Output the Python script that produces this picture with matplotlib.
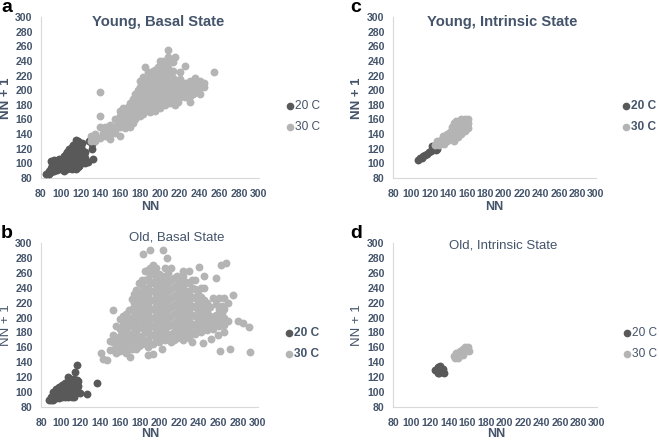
import matplotlib
matplotlib.use("Agg")
import matplotlib.pyplot as plt
from matplotlib.transforms import Affine2D

plt.rcParams['font.family'] = ['Liberation Sans', 'DejaVu Sans']

TICKS = list(range(80, 301, 20))
SERIES = ['20 C', '30 C']

# each row: x value, then the y values read at that x
a20 = [(85,[85]),(88,[86,90]),(90,[88,94,103]),(93,[90,96,104]),(96,[91,97,103]),(100,[92,98,104]),
       (103,[90,96,102,110]),(106,[92,98,104,112,116]),(109,[94,100,106,112,118]),
       (112,[95,102,108,114,120,125]),(115,[92,98,104,110,116,122,132]),(118,[96,102,108,114,120,128]),
       (121,[100,106,112,118,128]),(124,[100,108,115]),(127,[102]),(128,[130]),(131,[120,127]),(132,[106])]
a20_more = [(91,[97,100]),(94,[93,99]),(98,[94,100,106]),(102,[100,106]),(105,[95,101,107,113]),
            (108,[97,103,109,115,120]),(111,[92,99,105,111,117,123]),(114,[94,100,106,112,118,125]),
            (117,[95,101,107,113,119,125,130]),(120,[104,110,116,122]),(123,[104,112])]
a30 = [(130,[130,138]),(135,[130,140]),(140,[135,150,165,198]),(145,[138,150]),(150,[133,140,152]),
       (155,[142,145,160]),(160,[137,150,165,172]),(165,[148,158,170]),(170,[150,160,172,182]),
       (175,[160,170,182,195]),(180,[165,175,185,195,205,212]),(185,[172,182,192,202,212,232]),
       (190,[170,180,190,200,210,220]),(195,[172,182,192,202,212,222,228]),
       (200,[175,185,195,205,215,225,240]),(205,[180,190,200,210,220,235]),(208,[255]),
       (210,[182,192,202,212,225,240]),(215,[180,190,200,210,245]),(220,[190,200,210,215,225]),
       (225,[190,200,210,233]),(230,[184,192,202,212]),(235,[198,208,217]),(240,[195,205,212]),
       (245,[205,210]),(255,[225])]
a30_more = [(143,[142]),(148,[148]),(153,[150]),(158,[155,160]),(163,[155,165,175]),(168,[155,165,177]),
            (173,[155,165,177,188]),(178,[170,180,190,200]),(183,[168,178,188,198,208,218]),
            (188,[175,185,195,205,215,225]),(193,[176,186,196,206,216,226]),(198,[178,188,198,208,218,232]),
            (203,[182,192,202,212,228,240]),(208,[186,196,206,216,230,246]),(213,[186,196,206,216,226,238]),
            (218,[184,195,205]),(223,[195,205]),(228,[196,206]),(233,[195,205]),(238,[200,210])]
b20 = [(88,[89]),(90,[90,94]),(92,[90,96,100]),(95,[92,98,104]),(98,[92,97,103,107]),(101,[93,99,105,110]),
       (104,[94,100,106,112]),(107,[94,100,106,112,120]),(110,[96,102,108,114,118]),
       (113,[94,100,106,112,118]),(114,[127]),(116,[100,106,112,116]),(117,[137]),(118,[108,115]),
       (120,[99]),(127,[97]),(137,[112])]
b20_more = [(93,[93,97]),(96,[95,101]),(99,[95,100,106]),(102,[96,102,108]),(105,[97,103,109]),
            (108,[97,103,109,116]),(111,[93,99,105,111]),(114,[97,103,109,115])]
b30 = [(141,[152]),(143,[144]),(147,[143]),(150,[157,168]),(153,[210]),(156,[152,162,172,188]),
       (160,[155,165,175,185,198]),(166,[153,163,173,183,195,205]),(170,[147]),
       (172,[158,168,178,190,200,212,225]),(176,[158,170,182,192,204,216,228,237]),
       (182,[165,175,187,197,208,220,232,243,250]),(183,[285]),
       (188,[150,160,170,182,194,205,217,229,240,252,264]),(191,[291]),
       (194,[151,165,177,189,200,212,224,236,248,260,270]),(200,[167,178,190,202,214,226,238,250,258]),
       (203,[158]),(204,[291]),(206,[170,182,194,206,218,230,242,254,266]),(208,[280]),
       (212,[167,178,190,202,214,226,238,250,266]),(218,[172,184,196,208,220,232,244,256]),
       (224,[170,182,194,206,218,230,242,256,262]),(230,[172,184,196,208,220,232,246,263]),
       (233,[167]),(236,[178,190,202,214,226,238,250]),(240,[268]),(242,[180,192,204,216,228,240]),
       (244,[166]),(245,[256]),(248,[183,195,207,219]),(252,[171]),(254,[185,197,226]),(257,[253]),
       (259,[177]),(260,[188,200,212,226]),(261,[155]),(262,[271]),(266,[180,190,200,212,226]),
       (268,[273]),(270,[195,220]),(272,[158]),(275,[230]),(280,[196]),(285,[193]),(291,[187]),(292,[154])]
b30_more = [(153,[157,167,177]),(163,[160,170,180,190,202]),(169,[158,168,178,188,200,210]),
            (174,[163,174,186,196,208,220,232]),(179,[162,174,186,198,210,222,234,246]),
            (185,[170,181,192,203,214,226,238,250,262]),(191,[165,176,188,199,211,223,235,247,258,266]),
            (197,[171,183,195,207,219,231,243,255,266]),(203,[174,186,198,210,222,234,246,256]),
            (209,[176,188,200,212,224,236,248,260]),(215,[170,181,193,205,217,229,241,253]),
            (221,[178,190,202,214,226,238,250]),(227,[176,188,200,212,224,236,248]),
            (233,[180,192,204,216,228,240,250]),(239,[184,196,208,220,232]),(245,[188,200,212,224,240]),
            (251,[190,202,214]),(257,[192,204,218]),(263,[194,206,216])]
c20 = [(107,[105]),(109,[107]),(111,[108]),(113,[110]),(115,[112]),(117,[113]),(119,[115]),(121,[117]),
       (122,[124]),(123,[119]),(125,[121]),(127,[118]),(128,[120])]
c30 = [(125,[125]),(128,[130]),(130,[125]),(132,[132]),(134,[137]),(135,[127]),(136,[133]),(138,[130,140]),
       (140,[137]),(142,[133,143]),(144,[135,150]),(146,[130,138,147,155]),(148,[142,158]),(150,[136,146,155]),
       (152,[145,152]),(154,[140,150,160]),(156,[148,156]),(158,[144,152,160]),(160,[152]),(161,[148,155,160])]
d20 = [(125,[130]),(128,[125,133]),(130,[126]),(131,[128,135]),(134,[131]),(135,[125])]
d30 = [(146,[148]),(147,[146]),(148,[152]),(150,[146,150]),(152,[155]),(154,[152]),(155,[158]),(156,[150]),
       (158,[155,160]),(160,[157]),(161,[160]),(162,[155])]

PANELS = [
    dict(letter='a', lxy=(1, 8), title='Young, Basal State', txy=(158, 22), tsize=10.6, tbold=True,
         box=(41, 259, 17, 178), data=(a20 + a20_more, a30 + a30_more), ylab=(6, 98), xlab=(150, 207),
         ybold=True, lbold=False, leg=(290, 106, 127)),
    dict(letter='b', lxy=(1, 233), title='Old, Basal State', txy=(177, 238), tsize=9.5, tbold=False,
         box=(41, 258, 243, 407), data=(b20 + b20_more, b30 + b30_more), ylab=(6, 325), xlab=(150, 434),
         ybold=False, lbold=True, leg=(289, 333, 354)),
    dict(letter='c', lxy=(350, 8), title='Young, Intrinsic State', txy=(502, 22), tsize=10.6, tbold=True,
         box=(393, 596, 17, 178), data=(c20, c30), ylab=(357, 98), xlab=(494, 207),
         ybold=True, lbold=True, leg=(626, 106, 127)),
    dict(letter='d', lxy=(350, 233), title='Old, Intrinsic State', txy=(503, 246), tsize=9.5, tbold=False,
         box=(393, 597, 243, 407), data=(d20, d30), ylab=(357, 325), xlab=(496, 434),
         ybold=False, lbold=False, leg=(627, 333, 354)),
]

W, H = 659, 440
TXT = '#44546a'
DARK = '#595959'
LIGHT = '#b4b4b4'
COLORS = [DARK, LIGHT]

fig = plt.figure(figsize=(W / 100, H / 100), dpi=100)
px = Affine2D().scale(1 / W, -1 / H).translate(0, 1) + fig.transFigure


def flat(rows):
    xs, ys = [], []
    for x, vals in rows:
        for v in vals:
            xs.append(x)
            ys.append(v)
    return xs, ys


for p in PANELS:
    l, r, t, b = p['box']
    ax = fig.add_axes([l / W, 1 - b / H, (r - l) / W, (b - t) / H])
    for rows, col in zip(p['data'], COLORS):
        xs, ys = flat(rows)
        ax.scatter(xs, ys, s=32, color=col, linewidths=0, clip_on=False, zorder=3)
    ax.set_xlim(80, 300)
    ax.set_ylim(80, 300)
    ax.set_xticks(TICKS)
    ax.set_yticks(TICKS)
    ax.tick_params(length=0, labelsize=7.6, labelcolor=TXT)
    ax.tick_params(axis='x', pad=8)
    ax.tick_params(axis='y', pad=6)
    for s in ('top', 'right'):
        ax.spines[s].set_visible(False)
    for s in ('left', 'bottom'):
        ax.spines[s].set_color('#d9d9d9')
        ax.spines[s].set_linewidth(0.8)
    for lab in ax.get_xticklabels() + ax.get_yticklabels():
        lab.set_fontweight('bold')

    fig.text(*p['lxy'], p['letter'], transform=px, fontsize=14, fontweight='bold', color='black', va='center', ha='left')
    fig.text(*p['txy'], p['title'], transform=px, fontsize=p['tsize'], color=TXT, ha='center', va='center',
             fontweight='bold' if p['tbold'] else 'normal')
    fig.text(*p['xlab'], 'NN', transform=px, fontsize=9, color=TXT, ha='center', va='center', fontweight='bold')
    fig.text(*p['ylab'], 'NN + 1', transform=px, fontsize=9.5, color=TXT, ha='center', va='center', rotation=90,
             fontweight='bold' if p['ybold'] else 'normal')
    mx, y1, y2 = p['leg']
    for yy, col, name in zip((y1, y2), COLORS, SERIES):
        fig.text(mx + 5, yy, name, transform=px, fontsize=8.6, color=TXT, ha='left', va='center',
                 fontweight='bold' if p['lbold'] else 'normal')
        ax.plot([mx], [yy], marker='o', ms=5.5, mew=0, color=col, transform=px, clip_on=False, zorder=4)

fig.savefig('out.png', dpi=100)
